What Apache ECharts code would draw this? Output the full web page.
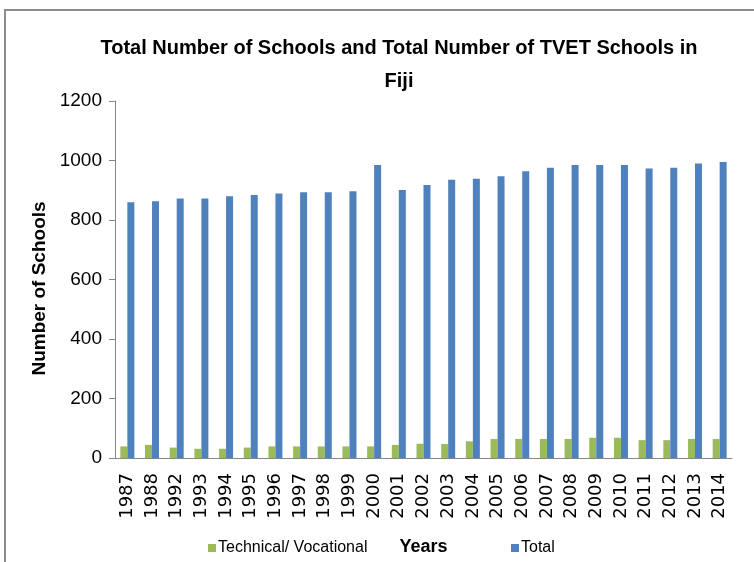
<!DOCTYPE html>
<html>
<head>
<meta charset="utf-8">
<script src="https://cdn.jsdelivr.net/npm/echarts@6/dist/echarts.min.js"></script>
<style>
  html, body { margin: 0; padding: 0; background: #fff; }
  #chart { width: 754px; height: 562px; }
</style>
</head>
<body>
<div id="chart"></div>
<script>
// 年份（类目）
var years = ['1987', '1988', '1992', '1993', '1994', '1995', '1996', '1997', '1998', '1999',
  '2000', '2001', '2002', '2003', '2004', '2005', '2006', '2007', '2008', '2009',
  '2010', '2011', '2012', '2013', '2014'];
// Technical/ Vocational
var tvet = [39, 44, 35, 31, 31, 35, 39, 39, 39, 39,
  39, 44, 48, 47, 56, 64, 64, 64, 64, 68,
  68, 60, 60, 64, 64];
// Total
var total = [860, 863, 872, 872, 880, 884, 889, 893, 893, 897,
  985, 901, 918, 935, 939, 947, 964, 976, 985, 985,
  985, 973, 976, 990, 995];

var sans = '"Liberation Sans", Arial, sans-serif';
var axisGray = '#868686';

var chart = echarts.init(document.getElementById('chart'));
chart.setOption({
  backgroundColor: '#fff',
  animation: false,
  title: {
    text: 'Total Number of Schools and Total Number of TVET Schools in\nFiji',
    left: 394,
    top: 27,
    textAlign: 'center',
    textStyle: {
      fontFamily: sans,
      fontWeight: 'bold',
      fontSize: 20,
      lineHeight: 33,
      color: '#000'
    }
  },
  legend: [
    {
      data: ['Technical/ Vocational'],
      left: 203, top: 535,
      icon: 'rect', itemWidth: 8, itemHeight: 8, itemGap: 2,
      textStyle: { fontFamily: sans, fontSize: 16, color: '#000', padding: [0, 0, 0, -3] }
    },
    {
      data: ['Total'],
      left: 506, top: 535,
      icon: 'rect', itemWidth: 8, itemHeight: 8, itemGap: 2,
      textStyle: { fontFamily: sans, fontSize: 16, color: '#000', padding: [0, 0, 0, -3] }
    }
  ],
  grid: { left: 115, right: 22, top: 101, bottom: 104, outerBoundsMode: 'none' },
  xAxis: {
    type: 'category',
    data: years,
    name: 'Years',
    nameLocation: 'middle',
    nameGap: 80,
    nameTextStyle: { fontFamily: sans, fontWeight: 'bold', fontSize: 18, color: '#000' },
    axisLine: { lineStyle: { color: axisGray, width: 1 } },
    axisTick: { length: 6, lineStyle: { color: axisGray } },
    axisLabel: {
      rotate: 90,
      fontFamily: '"DejaVu Sans", sans-serif',
      fontSize: 18,
      color: '#000',
      margin: 15
    }
  },
  yAxis: {
    type: 'value',
    min: 0, max: 1200, interval: 200,
    name: 'Number of Schools',
    nameLocation: 'middle',
    nameGap: 66,
    nameTextStyle: {
      fontFamily: sans, fontWeight: 'bold', fontSize: 19, color: '#000',
      padding: [0, 18, 0, 0]
    },
    axisLine: { show: true, lineStyle: { color: axisGray, width: 1 } },
    axisTick: { show: true, length: 6, lineStyle: { color: axisGray } },
    splitLine: { show: false },
    axisLabel: {
      fontFamily: sans,
      fontSize: 19,
      color: '#000',
      margin: 13,
      formatter: function (v) { return String(v); }
    }
  },
  series: [
    {
      name: 'Technical/ Vocational',
      type: 'bar',
      data: tvet,
      barWidth: 7,
      barGap: '0%',
      itemStyle: { color: '#9BBB59' }
    },
    {
      name: 'Total',
      type: 'bar',
      data: total,
      barWidth: 7,
      itemStyle: { color: '#4F81BD' }
    }
  ],
  graphic: [
    {
      type: 'rect',
      shape: { x: 5, y: 10, width: 800, height: 600 },
      style: { fill: 'none', stroke: '#8c8c8c', lineWidth: 2 },
      silent: true
    }
  ]
});
</script>
</body>
</html>
